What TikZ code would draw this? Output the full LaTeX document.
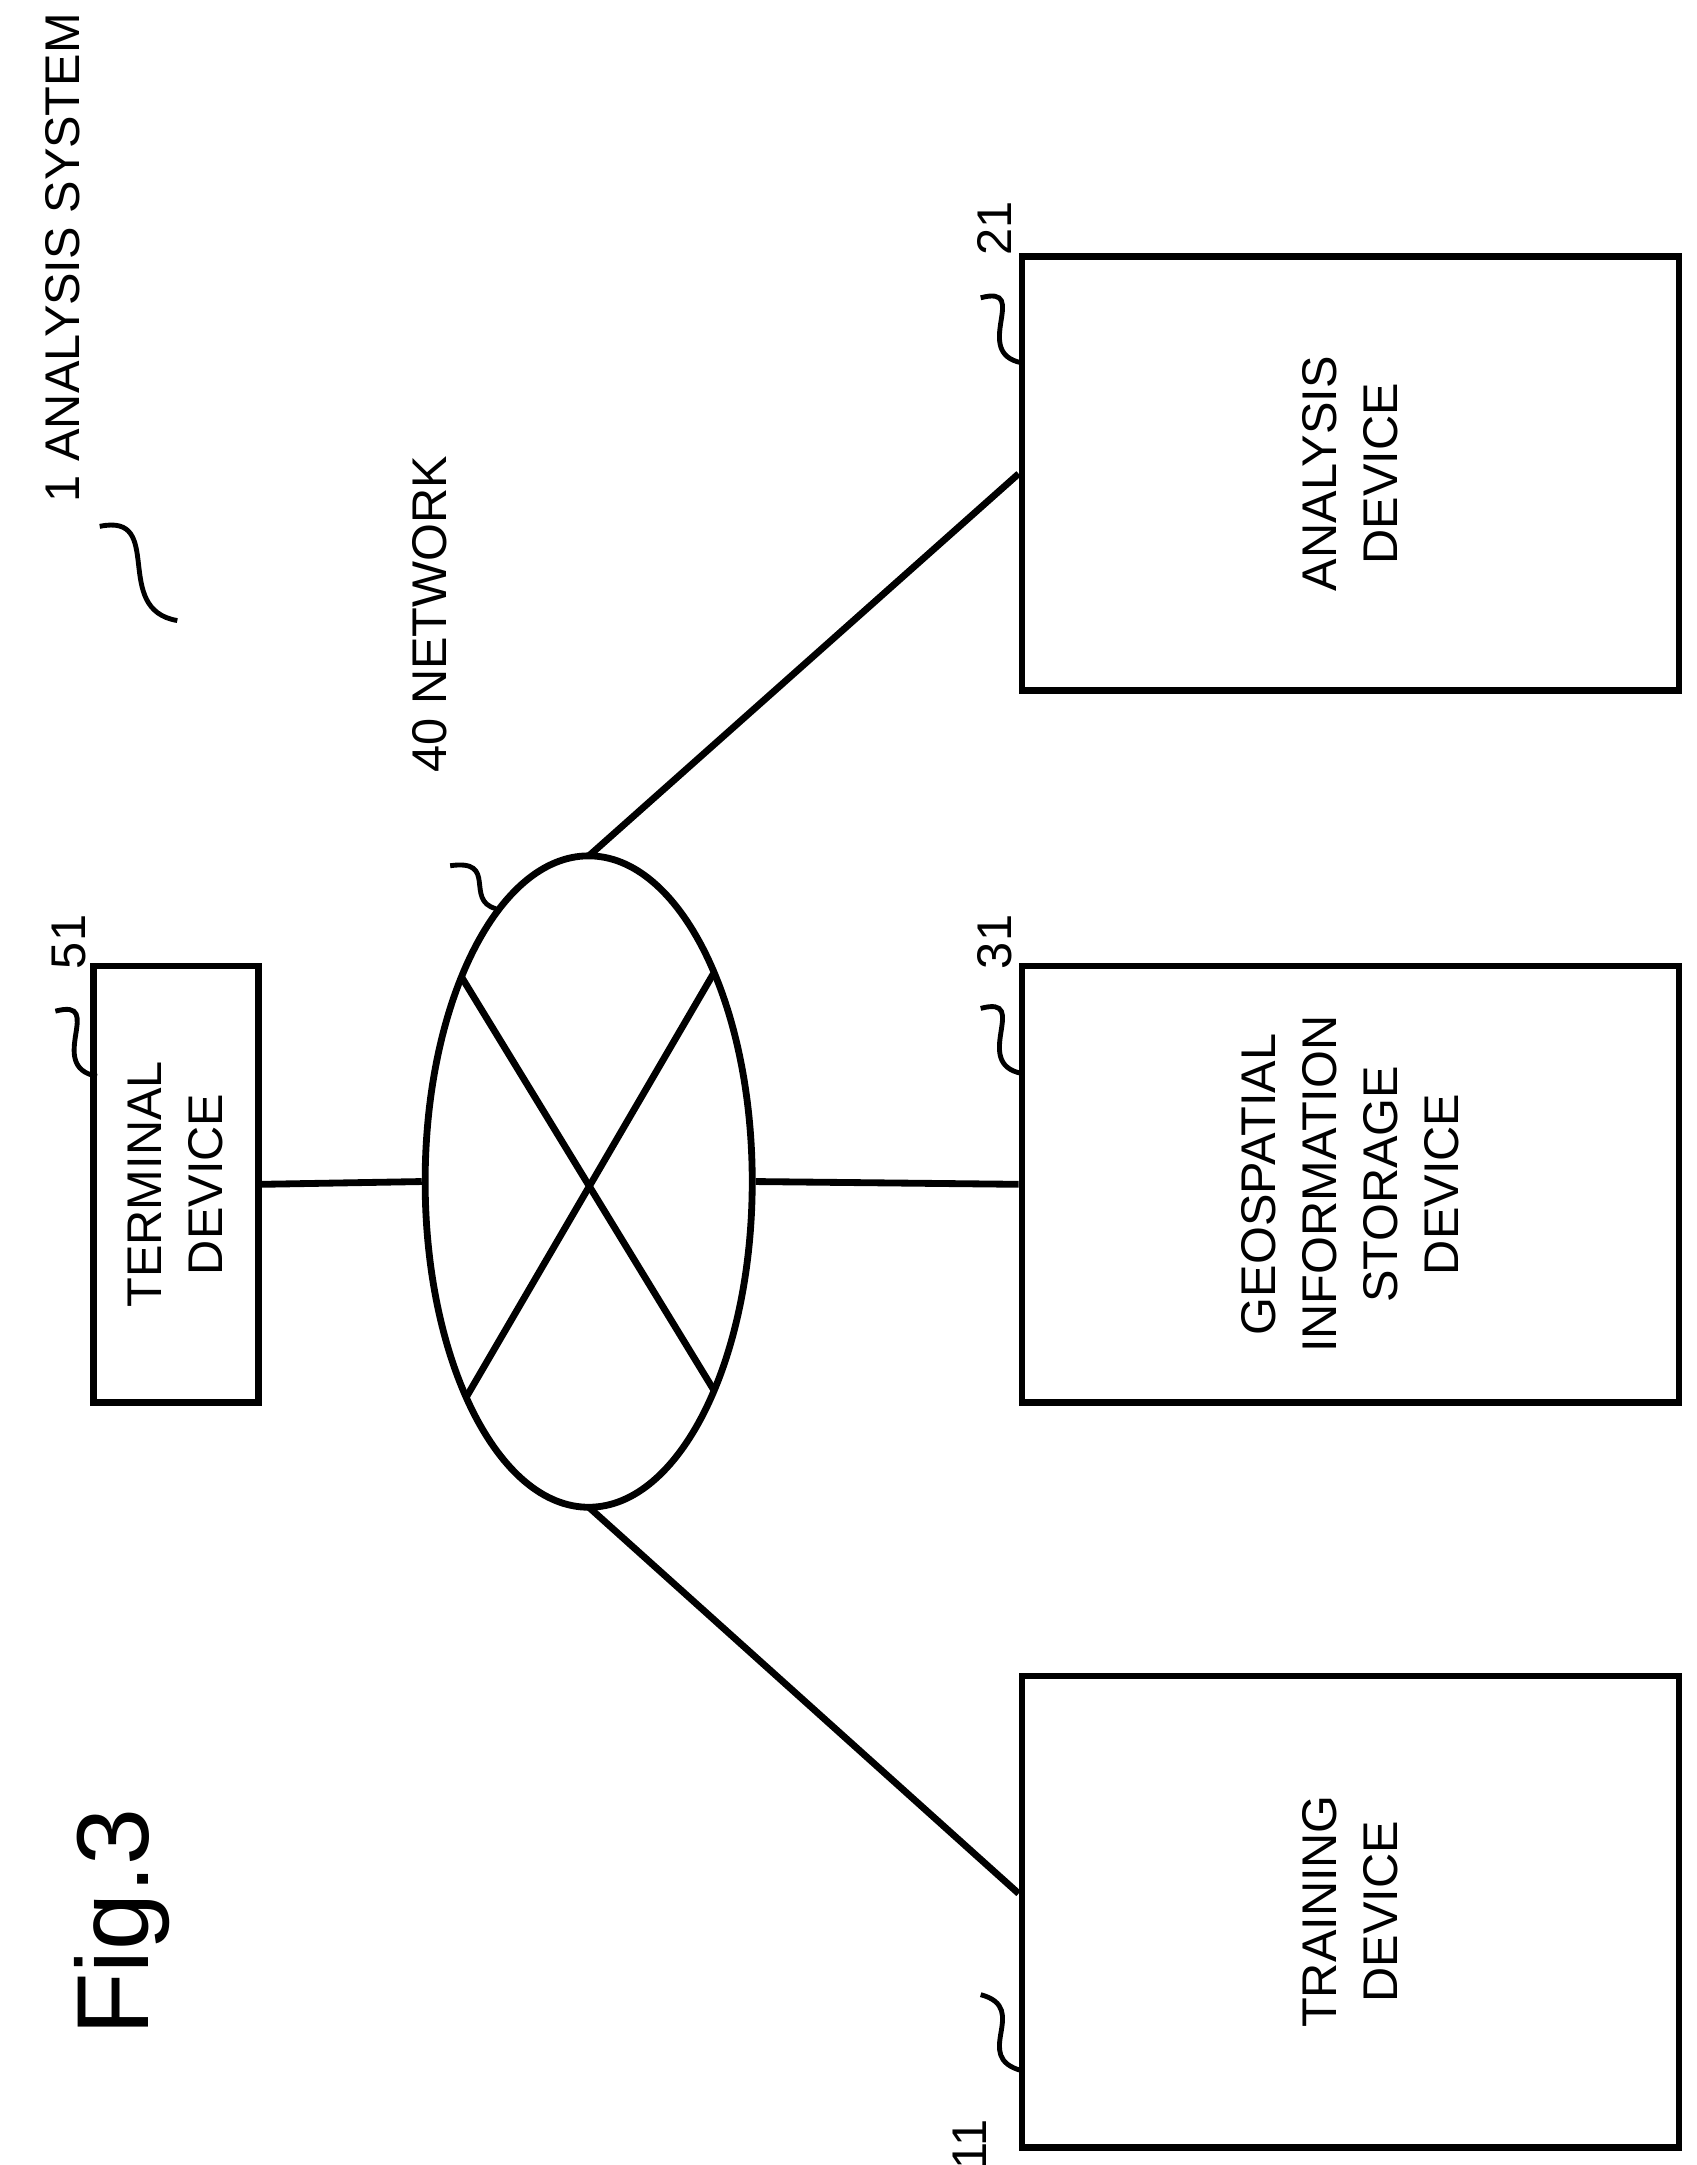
\documentclass[tikz,border=0pt]{standalone}
\usepackage{fontspec}
\setmainfont{Liberation Sans}
\usetikzlibrary{shapes.geometric}
\tikzset{
  box/.style={draw, line width=1.4pt, inner sep=0pt},
  lbl/.style={rotate=90, font=\fontsize{10}{12.5}\selectfont, align=center},
  wire/.style={line width=1.4pt},
  lead/.style={line width=1pt}
}
\begin{document}
\begin{tikzpicture}[x=0.01cm,y=-0.01cm]
\useasboundingbox (0,0) rectangle (1225,1563);

\node[box, minimum width=4.74cm, minimum height=3.4cm] (train) at (975,1380) {};
\node[box, minimum width=4.74cm, minimum height=3.15cm] (geo) at (975,855) {};
\node[box, minimum width=4.74cm, minimum height=3.13cm] (ana) at (975,342) {};
\node[box, minimum width=1.19cm, minimum height=3.15cm] (term) at (127,855) {};
\node[box, ellipse, minimum width=2.36cm, minimum height=4.7cm] (net) at (425,853) {};

\node[lbl] at (train.center) {TRAINING\\DEVICE};
\node[lbl] at (geo.center) {GEOSPATIAL\\INFORMATION\\STORAGE\\DEVICE};
\node[lbl] at (ana.center) {ANALYSIS\\DEVICE};
\node[lbl] at (term.center) {TERMINAL\\DEVICE};

% ellipse points
\coordinate (nt) at (425,618);
\coordinate (nb) at (425,1088);
\coordinate (x1) at (333,705);
\coordinate (x2) at (515,1003);
\coordinate (x3) at (515,703);
\coordinate (x4) at (337,1008);

\draw[wire] (x1) -- (x2);
\draw[wire] (x3) -- (x4);

\draw[wire] (term.east) -- (net.west);
\draw[wire] (net.east) -- (geo.west);
\draw[wire] (nt) -- (ana.west);
\draw[wire] (nb) -- (train.west|-1367,1367);

\node[lbl, anchor=west] (sys) at (45,375) {1 ANALYSIS SYSTEM};
\node[lbl, anchor=west] (nw) at (310,570) {40 NETWORK};
\node[rotate=90, font=\fontsize{21}{25}\selectfont, anchor=west] (fig) at (88,1482) {Fig.3};

\node[lbl] (n21) at (718,165) {21};
\node[lbl] (n31) at (718,680) {31};
\node[lbl] (n51) at (50,680) {51};
\node[lbl] (n11) at (700,1548) {11};

\draw[lead] (708,215) .. controls (745,205) and (700,255) .. (738,262);
\draw[lead] (708,728) .. controls (745,718) and (700,768) .. (738,775);
\draw[lead] (40,730) .. controls (77,720) and (32,770) .. (70,777);
\draw[lead] (708,1440) .. controls (745,1450) and (700,1485) .. (738,1495);
\draw[lead] (325,625) .. controls (360,620) and (335,650) .. (358,656);
\draw[lead] (72,380) .. controls (120,370) and (80,440) .. (128,448);
\end{tikzpicture}
\end{document}
